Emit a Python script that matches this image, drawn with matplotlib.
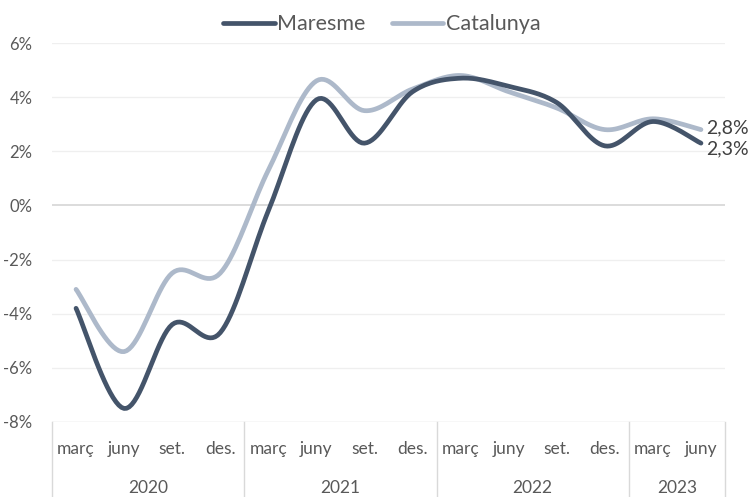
import numpy as np
import matplotlib.pyplot as plt
import matplotlib.transforms as mtransforms

plt.rcParams["font.family"] = ["Lato", "DejaVu Sans"]

# quarterly year-on-year change (%)
months = ["març", "juny", "set.", "des."] * 3 + ["març", "juny"]
years = ["2020", "2021", "2022", "2023"]
year_quarters = [4, 4, 4, 2]
maresme = [-3.8, -7.5, -4.4, -4.7, -0.2, 3.9, 2.3, 4.2, 4.7, 4.4, 3.8, 2.2, 3.1, 2.3]
catalunya = [-3.1, -5.4, -2.5, -2.5, 1.3, 4.6, 3.5, 4.3, 4.8, 4.2, 3.6, 2.8, 3.2, 2.8]

dark = "#44546A"
light = "#ADB9CA"
text_col = "#595959"


def smooth(y, n=20):
    # Catmull-Rom style curve through the points (like Excel's smoothed line)
    y = np.asarray(y, dtype=float)
    x = np.arange(len(y), dtype=float)
    px = np.concatenate([[x[0]], x, [x[-1]]])
    py = np.concatenate([[y[0]], y, [y[-1]]])
    xs, ys = [], []
    for i in range(1, len(px) - 2):
        p0, p1, p2, p3 = py[i - 1], py[i], py[i + 1], py[i + 2]
        q0, q1, q2, q3 = px[i - 1], px[i], px[i + 1], px[i + 2]
        c1y, c2y = p1 + (p2 - p0) / 6, p2 - (p3 - p1) / 6
        c1x, c2x = q1 + (q2 - q0) / 6, q2 - (q3 - q1) / 6
        t = np.linspace(0, 1, n)
        b = [(1 - t) ** 3, 3 * (1 - t) ** 2 * t, 3 * (1 - t) * t**2, t**3]
        xs.append(b[0] * q1 + b[1] * c1x + b[2] * c2x + b[3] * q2)
        ys.append(b[0] * p1 + b[1] * c1y + b[2] * c2y + b[3] * p2)
    return np.concatenate(xs), np.concatenate(ys)


fig = plt.figure(figsize=(7.55, 4.97), dpi=100)
ax = fig.add_axes([52 / 755, 75 / 497, 673 / 755, 379 / 497])

sx, sy = smooth(catalunya)
ax.plot(sx, sy, color=light, lw=3.4, solid_capstyle="round", label="Catalunya", zorder=3)
sx, sy = smooth(maresme)
ax.plot(sx, sy, color=dark, lw=3.4, solid_capstyle="round", label="Maresme", zorder=4)

ax.set_xlim(-0.5, len(months) - 0.5)
ax.set_ylim(-8, 6)
ax.set_yticks(np.arange(-8, 7, 2))
ax.set_yticklabels([f"{v}%" for v in range(-8, 7, 2)], color=text_col, fontsize=12)
ax.set_xticks([])
ax.tick_params(axis="y", length=0, pad=14)

for s in ax.spines.values():
    s.set_visible(False)
for v in range(-6, 7, 2):
    ax.axhline(v, color="#D9D9D9" if v == 0 else "#EFEFEF", lw=1.3 if v == 0 else 0.9, zorder=1)
ax.axhline(-8, color="#D9D9D9", lw=1.0, zorder=1)

# two-level category axis
trans = mtransforms.blended_transform_factory(ax.transData, ax.transAxes)
for i, m in enumerate(months):
    ax.text(i, -0.072, m, transform=trans, ha="center", va="center", fontsize=12.5, color=text_col)
start = 0
bounds = [-0.5]
for yr, nq in zip(years, year_quarters):
    ax.text(start + (nq - 1) / 2, -0.174, yr, transform=trans, ha="center", va="center",
            fontsize=12.5, color=text_col)
    start += nq
    bounds.append(start - 0.5)
for b in bounds:
    ax.plot([b, b], [0, -0.2], transform=trans, color="#D9D9D9", lw=1.0, clip_on=False)

# end labels
ax.annotate(f"{catalunya[-1]:.1f}%".replace(".", ","), (len(catalunya) - 1, catalunya[-1]),
            xytext=(4, 1), textcoords="offset points", ha="left", va="center",
            fontsize=14, color="#404040")
ax.annotate(f"{maresme[-1]:.1f}%".replace(".", ","), (len(maresme) - 1, maresme[-1]),
            xytext=(4, -4), textcoords="offset points", ha="left", va="center",
            fontsize=14, color="#404040")

h, l = ax.get_legend_handles_labels()
leg = ax.legend(h[::-1], l[::-1], loc="center", bbox_to_anchor=(0.49, 1.05), ncol=2,
                frameon=False, fontsize=15.5, handlelength=2.4, handletextpad=0.12,
                columnspacing=1.2, labelcolor=text_col)

fig.savefig("out.png", dpi=100)
